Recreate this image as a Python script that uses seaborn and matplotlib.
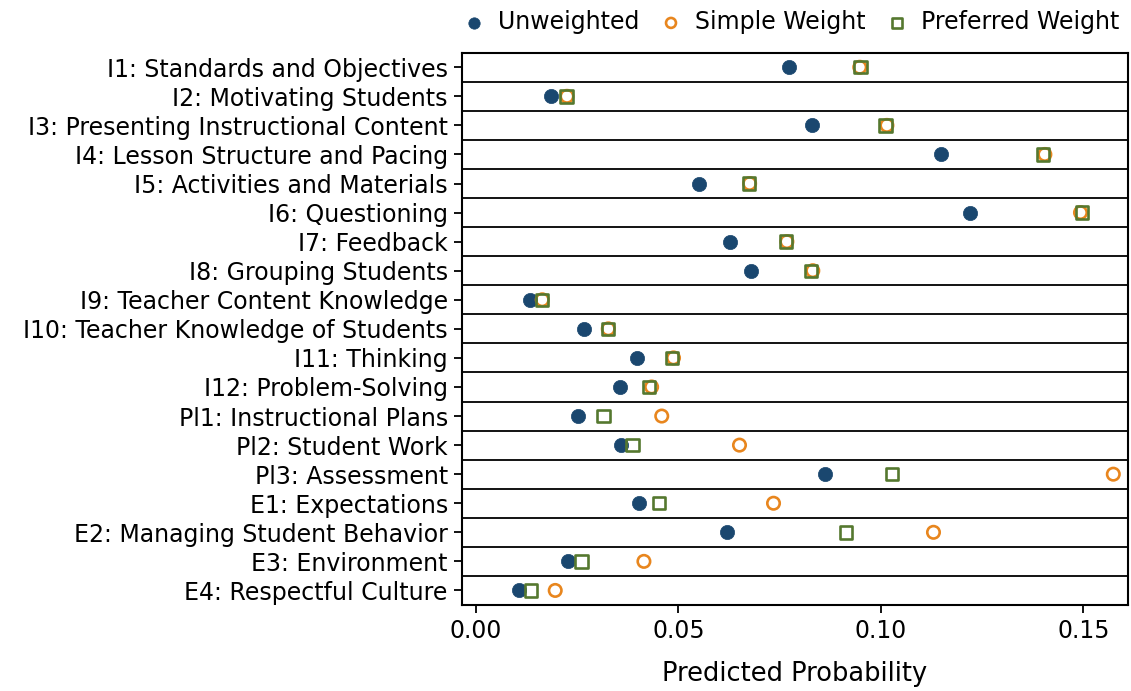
import matplotlib
matplotlib.use("Agg")
import matplotlib.pyplot as plt
import seaborn as sns
import pandas as pd

categories = [
    "I1: Standards and Objectives",
    "I2: Motivating Students",
    "I3: Presenting Instructional Content",
    "I4: Lesson Structure and Pacing",
    "I5: Activities and Materials",
    "I6: Questioning",
    "I7: Feedback",
    "I8: Grouping Students",
    "I9: Teacher Content Knowledge",
    "I10: Teacher Knowledge of Students",
    "I11: Thinking",
    "I12: Problem-Solving",
    "Pl1: Instructional Plans",
    "Pl2: Student Work",
    "Pl3: Assessment",
    "E1: Expectations",
    "E2: Managing Student Behavior",
    "E3: Environment",
    "E4: Respectful Culture",
]

unweighted = [0.0774, 0.0185, 0.0830, 0.1149, 0.0552, 0.1219, 0.0628, 0.0680, 0.0133,
              0.0266, 0.0399, 0.0356, 0.0252, 0.0359, 0.0863, 0.0404, 0.0621, 0.0228, 0.0106]
simple_weight = [0.0948, 0.0225, 0.1015, 0.1405, 0.0676, 0.1493, 0.0768, 0.0832, 0.0164,
                 0.0327, 0.0488, 0.0434, 0.0459, 0.0651, 0.1574, 0.0735, 0.1130, 0.0415, 0.0196]
preferred_weight = [0.0950, 0.0224, 0.1012, 0.1401, 0.0675, 0.1496, 0.0766, 0.0827, 0.0163,
                    0.0326, 0.0484, 0.0428, 0.0315, 0.0387, 0.1028, 0.0452, 0.0914, 0.0261, 0.0136]

series_names = ["Unweighted", "Simple Weight", "Preferred Weight"]
navy = "#1a476f"
orange = "#e8861e"
green = "#55782f"

df = pd.DataFrame({
    "category": categories,
    "Unweighted": unweighted,
    "Simple Weight": simple_weight,
    "Preferred Weight": preferred_weight,
})

sns.set_theme(style="white")
plt.rcParams["font.family"] = ["DejaVu Sans"]
plt.rcParams["text.color"] = "black"
plt.rcParams["axes.labelcolor"] = "black"
plt.rcParams["xtick.color"] = "black"
plt.rcParams["ytick.color"] = "black"

fig = plt.figure(figsize=(11.31, 6.91), dpi=100)
ax = fig.add_axes([0.4082, 0.1245, 0.5894, 0.7992])

sns.scatterplot(data=df, x="Unweighted", y="category", ax=ax, marker="o",
                color=navy, edgecolor=navy, s=105, linewidth=0.5, label=series_names[0], zorder=3)
sns.scatterplot(data=df, x="Simple Weight", y="category", ax=ax, marker="o",
                color=orange, facecolor="none", edgecolor=orange, s=80, linewidth=1.9,
                label=series_names[1], zorder=4)
sns.scatterplot(data=df, x="Preferred Weight", y="category", ax=ax, marker="s",
                color=green, facecolor="none", edgecolor=green, s=80, linewidth=1.9,
                label=series_names[2], zorder=5)

n = len(categories)
ax.set_ylim(n - 0.5, -0.5)
ax.set_xlim(-0.0035, 0.1611)
for i in range(n - 1):
    ax.axhline(i + 0.5, color="black", linewidth=1.3, zorder=1)

ax.set_xticks([0.0, 0.05, 0.10, 0.15])
ax.set_xticklabels(["0.00", "0.05", "0.10", "0.15"])
ax.set_xlabel("Predicted Probability", fontsize=18.5, labelpad=13)
ax.set_ylabel("")
ax.tick_params(axis="both", which="both", direction="out", length=6, width=1.3,
               color="black", labelsize=17, left=True, bottom=True, pad=4)
for sp in ax.spines.values():
    sp.set_color("black")
    sp.set_linewidth(1.5)

handles, labels = ax.get_legend_handles_labels()
ax.get_legend().remove()
fig.legend(handles, labels, loc="center right", bbox_to_anchor=(1.002, 0.968), ncol=3,
           frameon=False, fontsize=17, handletextpad=0.0, columnspacing=0.35,
           markerscale=0.8, borderaxespad=0.2)

fig.savefig("out.png", dpi=100)
